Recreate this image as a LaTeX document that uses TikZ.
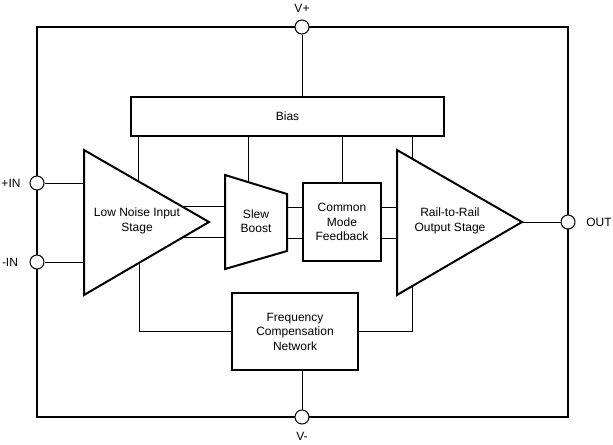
\documentclass[tikz,border=0pt]{standalone}
\usepackage{fontspec}
\setmainfont{Liberation Sans}

\begin{document}
\begin{tikzpicture}[x=0.75pt,y=0.75pt,yscale=-1,xscale=1,
  blk/.style={draw,line width=1.5pt,fill=white,inner sep=0pt},
  wire/.style={line width=0.75pt},
  pin/.style={draw,circle,line width=0.75pt,fill=white,minimum size=10.5pt,inner sep=0pt},
  lbl/.style={font=\fontsize{9}{10.9}\selectfont,align=center}]
\useasboundingbox (0,0) rectangle (613,444);

%Shape: Rectangle [frame]
\draw [line width=1.5pt] (37,27) rectangle (568,417);

%Shape: Pins
\node [pin] (vp) at (302,27) {};
\node [pin] (inp) at (37,183) {};
\node [pin] (inn) at (37,262) {};
\node [pin] (out) at (568,222) {};
\node [pin] (vn) at (302,417) {};

%Shape: Rectangle [bias]
\node [blk,lbl,minimum width=234.75pt,minimum height=29.25pt] (bias) at (287.5,116.5) {Bias};
%Shape: Rectangle [common mode feedback]
\node [blk,lbl,minimum width=58.5pt,minimum height=58.5pt] (cmfb) at (342,222) {Common\\Mode\\Feedback};
%Shape: Rectangle [frequency compensation]
\node [blk,lbl,minimum width=94.5pt,minimum height=57.75pt] (fcn) at (295,331.5) {Frequency\\Compensation\\Network};

%Shape: Triangle [low noise input stage]
\draw [blk] (84,150) coordinate (lna-a)
  -- coordinate[pos=0.432] (lna-b1) coordinate[pos=0.79] (lna-o1) (209,222) coordinate (lna-tip)
  -- coordinate[pos=0.219] (lna-o2) coordinate[pos=0.56] (lna-c1) (84,295) -- cycle ;
\node [lbl] (lna) at (137,221) {Low Noise Input\\Stage};

%Shape: Trapezoid [slew boost]
\draw [blk] (225,175) coordinate (sb-a) -- coordinate[pos=0.387] (sb-b1) (287,194)
  -- coordinate[pos=0.228] (sb-o1) coordinate[pos=0.772] (sb-o2) (287,251) -- (225,269) -- cycle ;
\node [lbl] (sb) at (256,221) {Slew\\Boost};

%Shape: Triangle [rail-to-rail output stage]
\draw [blk] (397,150) coordinate (ros-a)
  -- coordinate[pos=0.12] (ros-b1) (522,222) coordinate (ros-tip)
  -- coordinate[pos=0.88] (ros-c1) (397,295) -- cycle ;
\node [lbl] (ros) at (450,221) {Rail-to-Rail\\Output Stage};

%Straight Lines [supply and bias]
\draw [wire] (vp) -- (bias.north -| vp) ;
\draw [wire] (bias.south -| lna-b1) -- (lna-b1) ;
\draw [wire] (bias.south -| sb-b1) -- (sb-b1) ;
\draw [wire] (bias.south -| cmfb) -- (cmfb.north) ;
\draw [wire] (bias.south -| ros-b1) -- (ros-b1) ;

%Straight Lines [signal path]
\draw [wire] (inp) -- (inp -| lna-a) ;
\draw [wire] (inn) -- (inn -| lna-a) ;
\draw [wire] (lna-o1) -- (lna-o1 -| sb-a) ;
\draw [wire] (lna-o2) -- (lna-o2 -| sb-a) ;
\draw [wire] (sb-o1) -- (sb-o1 -| cmfb.west) ;
\draw [wire] (sb-o2) -- (sb-o2 -| cmfb.west) ;
\draw [wire] (sb-o1 -| cmfb.east) -- (sb-o1 -| ros-a) ;
\draw [wire] (sb-o2 -| cmfb.east) -- (sb-o2 -| ros-a) ;
\draw [wire] (ros-tip) -- (out) ;

%Straight Lines [compensation]
\draw [wire] (lna-c1) |- (fcn.west) ;
\draw [wire] (ros-c1) |- (fcn.east) ;
\draw [wire] (fcn.south -| vn) -- (vn) ;

% Text Node
\node [lbl] (vp-lbl) at (302,8) {V+};
% Text Node
\node [lbl] (inp-lbl) at (11,183) {+IN};
% Text Node
\node [lbl] (inn-lbl) at (10,262) {-IN};
% Text Node
\node [lbl] (out-lbl) at (599,222) {OUT};
% Text Node
\node [lbl] (vn-lbl) at (302,436) {V-};
\end{tikzpicture}
\end{document}
